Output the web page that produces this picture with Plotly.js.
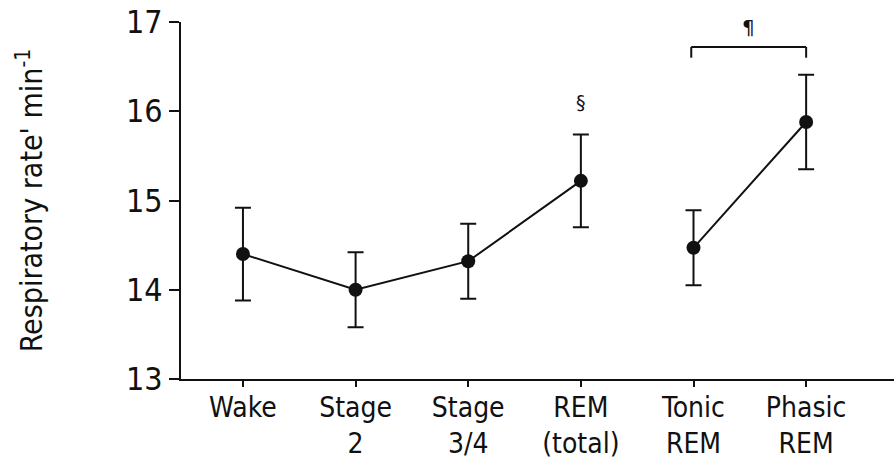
<!DOCTYPE html>
<html>
<head>
<meta charset="utf-8">
<script src="https://cdn.plot.ly/plotly-3.0.1.min.js"></script>
<style>
  html, body { margin: 0; padding: 0; background: #fff; }
  #chart { width: 894px; height: 461px; }
</style>
</head>
<body>
<div id="chart"></div>
<script>
// Sleep stages and mean respiratory rate (breaths per minute) with error bars
const stages = ["Wake", "Stage<br>2", "Stage<br>3/4", "REM<br>(total)", "Tonic<br>REM", "Phasic<br>REM"];
const stagePos = [0, 1, 2, 3, 4, 5];
const sleepRate = [14.4, 14.0, 14.32, 15.22];
const sleepErr = [0.52, 0.42, 0.42, 0.52];
const remRate = [14.47, 15.88];
const remErr = [0.42, 0.53];

const FONT = "'DejaVu Sans Condensed', 'Liberation Sans', Arial, sans-serif";
const SYM = "'DejaVu Sans', 'Liberation Sans', sans-serif";
const INK = "#111";

const common = {
  type: "scatter",
  mode: "lines+markers",
  line: { color: INK, width: 2 },
  marker: { color: INK, size: 14 },
  hoverinfo: "skip",
  showlegend: false
};

const traces = [
  Object.assign({}, common, {
    x: stagePos.slice(0, 4),
    y: sleepRate,
    error_y: { type: "data", array: sleepErr, visible: true, color: INK, thickness: 2, width: 8 }
  }),
  Object.assign({}, common, {
    x: stagePos.slice(4, 6),
    y: remRate,
    error_y: { type: "data", array: remErr, visible: true, color: INK, thickness: 2, width: 8 }
  })
];

const layout = {
  width: 894,
  height: 461,
  margin: { l: 181, r: 0, t: 22, b: 82 },
  paper_bgcolor: "#fff",
  plot_bgcolor: "#fff",
  font: { family: FONT, color: INK, size: 24 },
  xaxis: {
    range: [-0.55, 5.78],
    tickvals: stagePos,
    ticktext: stages,
    ticks: "outside",
    ticklen: 6,
    tickwidth: 2,
    tickcolor: INK,
    ticklabelstandoff: -4,
    showline: true,
    linecolor: INK,
    linewidth: 2,
    showgrid: false,
    zeroline: false,
    fixedrange: true,
    tickfont: { family: FONT, size: 28, color: INK }
  },
  yaxis: {
    range: [13, 17],
    tickvals: [13, 14, 15, 16, 17],
    ticks: "outside",
    ticklen: 10,
    tickwidth: 2,
    tickcolor: INK,
    showline: true,
    linecolor: INK,
    linewidth: 2,
    showgrid: false,
    zeroline: false,
    fixedrange: true,
    tickfont: { family: FONT, size: 32, color: INK },
    title: { text: "Respiratory rate' min<sup>-1</sup>", font: { family: FONT, size: 30, color: INK }, standoff: 74 }
  },
  shapes: [
    // bracket linking tonic and phasic REM
    { type: "line", xref: "x", yref: "y", x0: 3.98, x1: 3.98, y0: 16.6, y1: 16.72, line: { color: INK, width: 2 } },
    { type: "line", xref: "x", yref: "y", x0: 3.98, x1: 5.0, y0: 16.72, y1: 16.72, line: { color: INK, width: 2 } },
    { type: "line", xref: "x", yref: "y", x0: 5.0, x1: 5.0, y0: 16.6, y1: 16.72, line: { color: INK, width: 2 } }
  ],
  annotations: [
    { x: 3, y: 16.1, xref: "x", yref: "y", text: "§", showarrow: false, font: { family: SYM, size: 19, color: INK } },
    { x: 4.49, y: 16.94, xref: "x", yref: "y", text: "¶", showarrow: false, font: { family: SYM, size: 20, color: INK } }
  ]
};

Plotly.newPlot("chart", traces, layout, { displayModeBar: false, staticPlot: true });
</script>
</body>
</html>
